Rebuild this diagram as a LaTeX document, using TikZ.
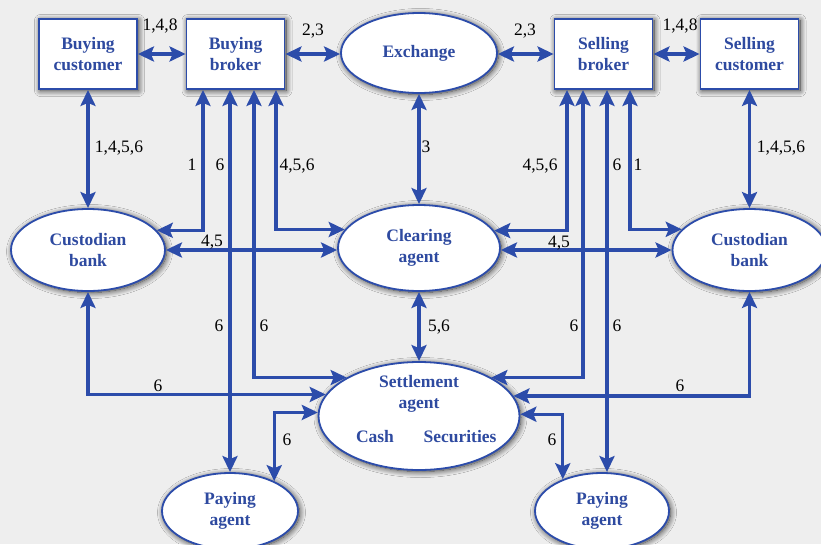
\documentclass[tikz,border=0pt]{standalone}
\usepackage{fontspec}
\setmainfont{Liberation Serif}
\usetikzlibrary{arrows.meta,shapes.geometric,shadows.blur}
\definecolor{linkblue}{RGB}{44,76,170}
\definecolor{textblue}{RGB}{46,74,160}
\definecolor{paper}{RGB}{238,238,238}

\begin{document}
\begin{tikzpicture}[x=1pt,y=-1pt,
  every node/.style={font=\fontsize{17.5}{21}\selectfont},
  party/.style={draw=linkblue, line width=1.8pt, fill=white, text=textblue,
    font=\bfseries\fontsize{17.5}{20.5}\selectfont, align=center, inner sep=0pt,
    blur shadow={shadow xshift=1.5pt, shadow yshift=-1.5pt, shadow blur radius=6pt,
      shadow blur steps=16, shadow opacity=80}},
  box/.style={party, rectangle, minimum width=98pt, minimum height=70pt},
  ell/.style={party, ellipse},
  caption/.style={text=textblue, font=\bfseries\fontsize{17.5}{20.5}\selectfont, align=center, inner sep=0pt},
  flow/.style={draw=linkblue, line width=3.3pt,
    {Stealth[length=16pt,width=15pt,inset=3pt]}-{Stealth[length=16pt,width=15pt,inset=3pt]}},
  lab/.style={anchor=base, yshift=-6pt, text=black, inner sep=0pt}
]
% canvas and frame
\fill[paper] (0,0) rectangle (821,544);
\useasboundingbox (0,0) rectangle (821,544);
\clip (0,0) rectangle (821,544);

% parties
\node[box] (bc) at (88,54) {Buying\\customer};
\node[box] (bb) at (235.5,54) {Buying\\broker};
\node[ell, minimum width=156pt, minimum height=80pt] (ex) at (419,53) {Exchange};
\node[box] (sb) at (603.5,54) {Selling\\broker};
\node[box] (sc) at (749.5,54) {Selling\\customer};

\node[ell, minimum width=154pt, minimum height=82pt] (cbL) at (88,250) {Custodian\\bank};
\node[ell, minimum width=162pt, minimum height=86pt] (ca) at (419,248) {Clearing\\agent};
\node[ell, minimum width=154pt, minimum height=82pt] (cbR) at (749.5,250) {Custodian\\bank};

\node[ell, minimum width=201pt, minimum height=108pt] (sa) at (419,416) {};
\node[caption] (satitle) at (419,394) {Settlement\\agent};
\node[caption, anchor=base] (sacash) at (375,442) {Cash};
\node[caption, anchor=base] (sasec) at (460,442) {Securities};

\node[ell, minimum width=136pt, minimum height=76pt] (paL) at (230,511) {Paying\\agent};
\node[ell, minimum width=134pt, minimum height=76pt] (paR) at (602,511) {Paying\\agent};

% top row
\draw[flow] (bc) -- (bb);
\draw[flow] (bb.east) -- (bb.east -| ex.west);
\draw[flow] (sb.west -| ex.east) -- (sb.west);
\draw[flow] (sb) -- (sc);

% verticals through the middle
\draw[flow] (bc) -- (cbL);
\draw[flow] (sc) -- (cbR);
\draw[flow] (ex) -- (ca);
\draw[flow] (ca) -- (sa);

% custodians to clearing agent
\draw[flow] (cbL.east) -- (cbL.east -| ca.west);
\draw[flow] (cbR.west) -- (cbR.west -| ca.east);

% buying broker drops
\draw[flow] ([xshift=-32.5pt]bb.south) |- (cbL.16.6);
\draw[flow] ([xshift=-5.5pt]bb.south) -- (paL.north);
\draw[flow] ([xshift=18.5pt]bb.south) |- (sa.152);
\draw[flow] ([xshift=40.5pt]bb.south) |- (ca.166.3);

% selling broker drops
\draw[flow] ([xshift=-36.5pt]sb.south) |- (ca.13.7);
\draw[flow] ([xshift=-20.5pt]sb.south) |- (sa.28);
\draw[flow] ([xshift=3.5pt]sb.south) -- ([xshift=3.5pt]sb.south |- paR.north);
\draw[flow] ([xshift=26.5pt]sb.south) |- (cbR.163.4);

% custodians to settlement agent
\draw[flow] (cbL.south) |- (sa.167.9);
\draw[flow] (cbR.south) |- (sa.12.1);

% paying agents to settlement agent
\draw[flow] (paL.34.4) |- (sa.178.3);
\draw[flow] (sa.1.7) -| (paR.141.6);

% message numbers
\node[lab] (l1) at (160,24) {1,4,8};
\node[lab] (l2) at (313,29) {2,3};
\node[lab] (l3) at (525,29) {2,3};
\node[lab] (l4) at (680,24) {1,4,8};
\node[lab] (l5) at (119,146) {1,4,5,6};
\node[lab] (l6) at (192,164) {1};
\node[lab] (l7) at (220,164) {6};
\node[lab] (l8) at (297,164) {4,5,6};
\node[lab] (l9) at (426,146) {3};
\node[lab] (l10) at (540,164) {4,5,6};
\node[lab] (l11) at (617,164) {6};
\node[lab] (l12) at (638,164) {1};
\node[lab] (l13) at (781,146) {1,4,5,6};
\node[lab] (l14) at (212,240) {4,5};
\node[lab] (l15) at (559,241) {4,5};
\node[lab] (l16) at (219,325) {6};
\node[lab] (l17) at (264,325) {6};
\node[lab] (l18) at (439,325) {5,6};
\node[lab] (l19) at (574,325) {6};
\node[lab] (l20) at (617,325) {6};
\node[lab] (l21) at (158,385) {6};
\node[lab] (l22) at (680,385) {6};
\node[lab] (l23) at (287,439) {6};
\node[lab] (l24) at (552,439) {6};
\end{tikzpicture}
\end{document}
